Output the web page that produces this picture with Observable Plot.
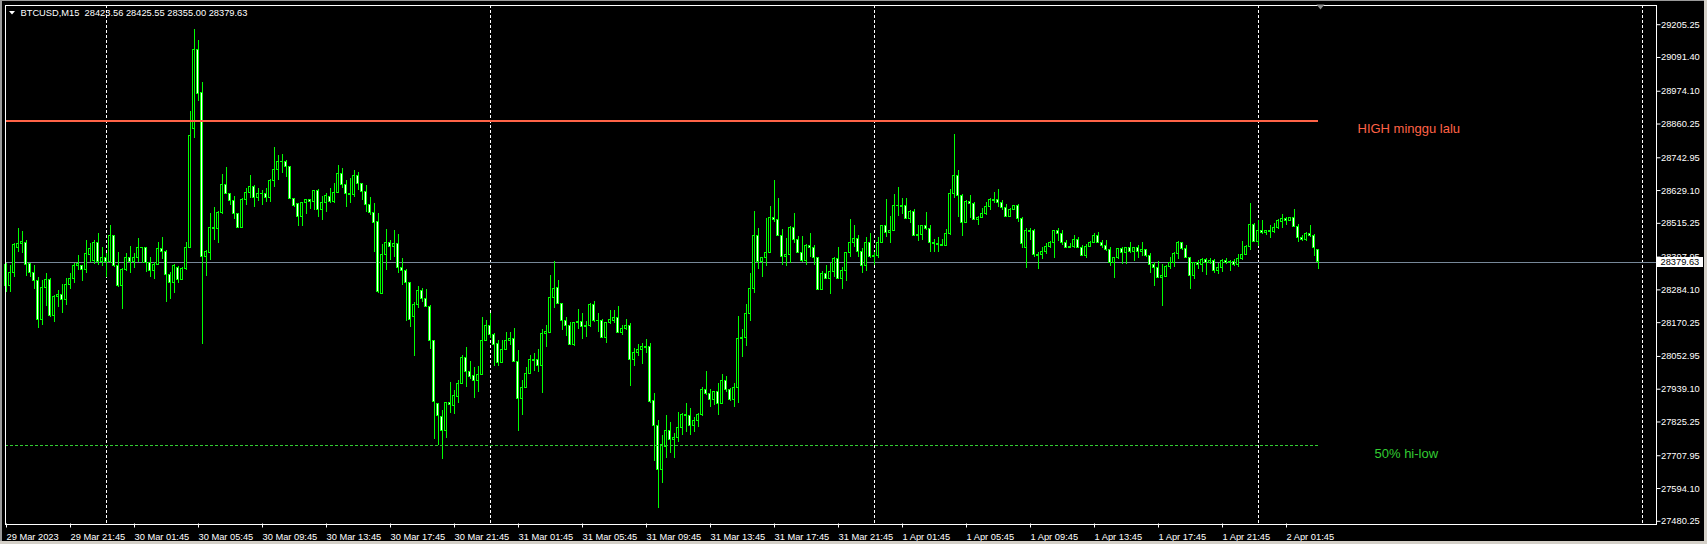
<!DOCTYPE html>
<html><head><meta charset="utf-8">
<script src="https://cdn.jsdelivr.net/npm/d3@7"></script>
<script src="https://cdn.jsdelivr.net/npm/@observablehq/plot@0.6"></script>
<style>
html,body{margin:0;padding:0;background:#000;overflow:hidden;}
#chart svg rect, #chart svg line {shape-rendering:crispEdges;}
</style></head><body><div id="chart"></div>
<script>
// ---- data (BTCUSD M15, bar 0 = 29 Mar 17:45) ----
const open = [
28369,28297,28343,28430,28444,28448,28374,28343,28314,28178,
28291,28317,28195,28261,28265,28250,28300,28321,28366,28366,
28352,28405,28384,28447,28380,28395,28381,28471,28366,28297,
28352,28395,28380,28395,28429,28429,28377,28351,28371,28427,
28417,28336,28309,28361,28317,28357,28429,28843,29118,28969,
28398,28412,28499,28494,28551,28647,28618,28593,28548,28498,
28597,28621,28643,28603,28618,28617,28603,28662,28702,28730,
28728,28712,28600,28581,28537,28586,28595,28590,28629,28562,
28586,28608,28589,28620,28685,28649,28618,28614,28678,28652,
28623,28580,28551,28519,28270,28406,28448,28432,28444,28360,
28348,28307,28189,28233,28280,28253,28224,28106,27888,27844,
27793,27892,27882,27913,27957,28048,27998,27985,27967,27989,
28108,28157,28128,28096,28029,28076,28108,28114,28035,27906,
27944,27992,28041,28039,28019,28131,28135,28256,28291,28236,
28175,28158,28093,28170,28174,28155,28158,28230,28175,28177,
28116,28170,28177,28187,28134,28149,28158,28041,28065,28076,
28085,28085,27897,27811,27659,27740,27793,27761,27770,27805,
27851,27845,27813,27830,27848,27937,27921,27902,27929,27888,
27967,27937,27900,27943,28114,28117,28199,28288,28473,28380,
28395,28413,28534,28527,28471,28398,28407,28500,28458,28413,
28384,28438,28430,28394,28285,28340,28322,28346,28392,28322,
28351,28413,28447,28461,28415,28366,28447,28398,28402,28447,
28505,28481,28490,28575,28577,28574,28531,28554,28473,28475,
28505,28496,28447,28444,28441,28438,28479,28618,28678,28610,
28516,28589,28583,28527,28534,28546,28571,28597,28595,28585,
28568,28537,28563,28577,28531,28430,28490,28487,28403,28407,
28417,28432,28446,28487,28479,28446,28430,28433,28458,28429,
28401,28432,28447,28473,28446,28436,28421,28377,28395,28427,
28412,28430,28415,28430,28415,28423,28401,28371,28361,28325,
28330,28365,28377,28409,28447,28427,28394,28332,28378,28371,
28388,28378,28386,28349,28361,28386,28377,28381,28372,28390,
28407,28432,28511,28452,28490,28481,28488,28484,28500,28521,
28530,28525,28534,28504,28464,28456,28479,28470,28423.56];
const high = [
28377,28369,28444,28496,28487,28456,28377,28369,28326,28317,
28340,28323,28265,28282,28302,28323,28340,28377,28404,28369,
28456,28446,28456,28479,28433,28409,28508,28473,28415,28357,
28409,28435,28409,28461,28431,28433,28395,28380,28450,28465,
28421,28346,28371,28365,28363,28450,28905,29189,29150,29006,
28421,28551,28569,28558,28684,28710,28620,28609,28550,28600,
28635,28681,28645,28635,28629,28635,28666,28780,28751,28754,
28734,28713,28603,28583,28589,28597,28597,28629,28632,28610,
28618,28635,28652,28716,28705,28664,28670,28699,28693,28655,
28647,28604,28583,28548,28442,28494,28456,28490,28477,28392,
28355,28311,28241,28296,28288,28284,28230,28108,27891,27865,
27894,27964,27935,27969,28056,28083,28035,28016,28018,28189,
28178,28203,28131,28108,28108,28135,28135,28149,28074,27969,
28013,28056,28062,28076,28145,28160,28334,28384,28317,28238,
28189,28172,28172,28215,28203,28174,28236,28244,28201,28180,
28172,28213,28212,28226,28160,28180,28166,28079,28094,28097,
28111,28097,27925,27830,27778,27848,27822,27786,27857,27854,
27888,27871,27840,27854,27946,28001,27937,27929,27958,27990,
27983,27940,27960,28192,28147,28233,28342,28556,28499,28398,
28533,28574,28664,28600,28494,28461,28504,28551,28470,28470,
28441,28481,28438,28397,28349,28369,28375,28398,28430,28361,
28415,28529,28508,28473,28427,28467,28479,28415,28467,28508,
28598,28539,28615,28639,28600,28600,28560,28563,28508,28508,
28554,28508,28458,28467,28458,28494,28633,28824,28699,28615,
28595,28612,28587,28540,28566,28589,28600,28621,28633,28595,
28581,28566,28578,28580,28534,28496,28496,28493,28415,28433,
28446,28453,28488,28496,28490,28456,28444,28473,28467,28438,
28442,28452,28481,28483,28456,28456,28430,28398,28429,28430,
28433,28448,28432,28438,28447,28426,28409,28380,28384,28372,
28369,28398,28415,28452,28450,28438,28398,28380,28386,28392,
28392,28392,28390,28375,28389,28392,28386,28390,28407,28452,
28438,28583,28516,28525,28525,28492,28508,28516,28529,28546,
28537,28537,28563,28510,28473,28485,28508,28475,28425.55];
const low = [
28276,28276,28328,28415,28409,28331,28328,28284,28150,28160,
28226,28187,28172,28222,28203,28230,28284,28305,28351,28314,
28342,28380,28372,28369,28365,28328,28377,28363,28294,28216,
28349,28342,28357,28380,28377,28346,28326,28319,28369,28389,
28241,28250,28273,28307,28317,28353,28427,28809,28940,28094,
28331,28386,28456,28446,28546,28614,28577,28529,28496,28496,
28577,28600,28569,28592,28577,28589,28589,28639,28664,28690,
28676,28598,28571,28505,28505,28546,28562,28560,28537,28525,
28554,28585,28585,28618,28635,28571,28583,28604,28629,28595,
28554,28543,28415,28273,28268,28351,28386,28395,28342,28299,
28174,28155,28054,28218,28241,28222,28077,27764,27744,27694,
27767,27856,27851,27888,27955,27946,27972,27908,27929,27985,
28106,28114,28019,28019,28027,28074,28091,28031,27793,27848,
27940,27989,28002,27998,27925,28085,28132,28218,28233,28143,
28122,28091,28087,28147,28112,28120,28155,28170,28137,28114,
28099,28164,28166,28131,28126,28143,27950,28019,28053,28025,
28062,27888,27689,27525,27610,27697,27717,27697,27755,27778,
27790,27778,27790,27807,27846,27917,27877,27883,27848,27886,
27929,27897,27877,27891,28048,28089,28175,28270,28354,28326,
28365,28410,28519,28470,28369,28365,28375,28446,28410,28380,
28369,28398,28369,28282,28282,28320,28268,28328,28319,28285,
28314,28398,28430,28398,28342,28348,28392,28369,28392,28444,
28467,28446,28487,28539,28546,28527,28516,28470,28453,28456,
28490,28415,28415,28415,28435,28436,28473,28600,28537,28470,
28514,28531,28525,28508,28532,28543,28560,28585,28571,28560,
28534,28534,28560,28517,28427,28360,28456,28398,28355,28390,
28407,28427,28394,28453,28438,28427,28427,28429,28427,28400,
28394,28430,28446,28444,28427,28418,28367,28325,28390,28372,
28372,28412,28384,28394,28401,28398,28340,28297,28322,28226,
28328,28355,28361,28389,28421,28392,28285,28320,28355,28343,
28334,28372,28340,28338,28343,28374,28349,28367,28361,28387,
28402,28421,28448,28436,28477,28473,28461,28481,28494,28496,
28508,28522,28502,28450,28453,28453,28467,28401,28355.00];
const close = [
28297,28343,28441,28444,28450,28371,28343,28314,28178,28291,
28317,28195,28261,28267,28250,28302,28322,28367,28375,28352,
28409,28427,28448,28380,28395,28381,28471,28367,28297,28354,
28395,28380,28395,28429,28431,28377,28351,28371,28427,28415,
28336,28307,28367,28320,28357,28429,28817,29116,28965,28398,
28417,28500,28494,28552,28647,28618,28592,28548,28499,28597,
28621,28643,28603,28618,28616,28603,28664,28702,28730,28728,
28710,28600,28575,28537,28587,28595,28590,28629,28562,28587,
28609,28589,28621,28685,28649,28618,28614,28678,28653,28624,
28580,28551,28517,28276,28406,28448,28433,28444,28360,28349,
28307,28181,28233,28280,28253,28224,28106,27896,27845,27793,
27892,27883,27914,27958,28048,27998,27981,27967,27989,28108,
28157,28128,28094,28030,28076,28108,28114,28033,27906,27944,
27993,28041,28037,28019,28131,28137,28257,28288,28236,28175,
28158,28093,28170,28174,28155,28160,28230,28175,28177,28116,
28170,28178,28187,28134,28149,28158,28041,28065,28076,28085,
28082,27894,27811,27659,27747,27793,27761,27770,27805,27851,
27845,27813,27830,27848,27937,27921,27902,27929,27888,27967,
27937,27900,27943,28114,28118,28199,28288,28473,28380,28395,
28413,28534,28527,28471,28398,28407,28500,28458,28413,28384,
28438,28430,28394,28285,28340,28323,28346,28392,28323,28351,
28413,28448,28461,28415,28367,28448,28398,28402,28448,28505,
28481,28490,28575,28577,28571,28531,28554,28473,28475,28505,
28496,28448,28444,28441,28438,28479,28618,28678,28610,28516,
28589,28583,28527,28534,28546,28571,28597,28594,28585,28568,
28537,28563,28577,28531,28444,28490,28485,28404,28407,28417,
28433,28446,28487,28479,28446,28430,28433,28458,28429,28401,
28433,28448,28473,28446,28436,28421,28377,28395,28427,28412,
28430,28415,28430,28415,28423,28401,28371,28361,28325,28331,
28365,28377,28409,28448,28427,28394,28332,28378,28371,28389,
28378,28386,28349,28361,28386,28377,28381,28372,28390,28407,
28433,28511,28452,28490,28481,28488,28484,28500,28522,28532,
28525,28534,28504,28464,28456,28479,28470,28429,28379.63];

const symbolName = "BTCUSD,M15";
const priceTicks = [29205.25, 29091.40, 28974.10, 28860.25, 28742.95, 28629.10, 28515.25, 28397.95,
                    28284.10, 28170.25, 28052.95, 27939.10, 27825.25, 27707.95, 27594.10, 27480.25];
const timeTickBars = [0,16,32,48,64,80,96,112,128,144,160,176,192,208,224,240,256,272,288,304,320];
const timeTickLabels = ["29 Mar 2023","29 Mar 21:45","30 Mar 01:45","30 Mar 05:45","30 Mar 09:45",
  "30 Mar 13:45","30 Mar 17:45","30 Mar 21:45","31 Mar 01:45","31 Mar 05:45","31 Mar 09:45",
  "31 Mar 13:45","31 Mar 17:45","31 Mar 21:45","1 Apr 01:45","1 Apr 05:45","1 Apr 09:45",
  "1 Apr 13:45","1 Apr 17:45","1 Apr 21:45","2 Apr 01:45"];
const midnightBars = [25,121,217,313,409];
const levelNames = ["HIGH minggu lalu", "50% hi-low"];
const levelPrices = [28872, 27743.5];
const levelColors = ["#ff6347", "#32cd32"];

// ---- build ----
const bars = close.map((c, i) => ({i, o: open[i], h: high[i], l: low[i], c}));
const last = bars.length - 1;
const lastBar = bars[last];
const levels = levelNames.map((name, k) => ({name, price: levelPrices[k], color: levelColors[k]}));
const fmt = v => v.toFixed(2);

const W = 1707, H = 544;
const FONT = "'Liberation Sans', Arial, sans-serif";
const chart = Plot.plot({
  width: W, height: H,
  marginLeft: 4.5, marginRight: 51.5, marginTop: 4.5, marginBottom: 20.5,
  style: {background: "#000", color: "#fff", fontFamily: FONT, fontSize: "9.3px", overflow: "visible"},
  x: {type: "linear", domain: [-0.25, 412.5]},
  y: {type: "linear", domain: [27470.85, 29273.68]},
  color: {type: "identity"},
  marks: [
    Plot.ruleX(midnightBars, {stroke: "#fff", strokeDasharray: "3,2"}),
    Plot.ruleY([lastBar.c], {stroke: "#778899"}),
    Plot.ruleX(bars, {x: "i", y1: "l", y2: "h", stroke: "#00ff00"}),
    Plot.rect(bars, {x1: d => d.i - 0.25, x2: d => d.i + 0.25, y1: "o", y2: "c",
      stroke: "#00ff00", fill: d => d.c < d.o ? "#ffffff" : "#000000"}),
    Plot.ruleY([levels[0]], {y: "price", x1: () => -0.25, x2: () => last + 0.125, stroke: "color", strokeWidth: 2}),
    Plot.ruleY([levels[1]], {y: "price", x1: () => -0.25, x2: () => last + 0.125, stroke: "color", strokeDasharray: "3,2"}),
    Plot.text([levels[0]], {x: () => last, y: "price", text: "name", fill: "color", dx: 39.5, dy: 12.6,
      textAnchor: "start", lineAnchor: "bottom", fontSize: 13}),
    Plot.text([levels[1]], {x: () => last, y: "price", text: "name", fill: "color", dx: 56.5, dy: 12.7,
      textAnchor: "start", lineAnchor: "bottom", fontSize: 13}),
    Plot.frame({stroke: "#fff"}),
    Plot.axisY({ticks: priceTicks, anchor: "right", tickSize: 4, tickPadding: 1, tickFormat: fmt,
      textAnchor: "start", label: null, fill: "#fff", stroke: "#fff"}),
    Plot.axisX({ticks: timeTickBars, anchor: "bottom", tickSize: 4, tickPadding: 5,
      tickFormat: d => timeTickLabels[timeTickBars.indexOf(d)], textAnchor: "start", dx: 0.5,
      label: null, fill: "#fff", stroke: "#fff"})
  ]
});
document.getElementById("chart").appendChild(chart);

const svg = d3.select(chart);
const ys = chart.scale("y");
const yc = ys.apply(lastBar.c);
// current price box
svg.append("rect").attr("x", 1656).attr("y", yc - 4.5).attr("width", 47).attr("height", 10).attr("fill", "#fff");
svg.append("text").attr("x", 1660.5).attr("y", yc + 3.2).attr("fill", "#000").attr("text-anchor", "start")
  .style("font-family", FONT).style("font-size", "9.3px").text(fmt(lastBar.c));
// header text
svg.append("path").attr("d", "M9,11 L15,11 L12,14.5 Z").attr("fill", "#fff");
svg.append("text").attr("x", 20.5).attr("y", 15.7).attr("fill", "#fff").attr("text-anchor", "start")
  .style("white-space", "pre").style("font-family", FONT).style("font-size", "9.3px")
  .text(`${symbolName}  ${fmt(lastBar.o)} ${fmt(lastBar.h)} ${fmt(lastBar.l)} ${fmt(lastBar.c)}`);
// chart-shift marker
svg.append("path").attr("d", "M1316.5,4.5 L1324.5,4.5 L1320.5,9.5 Z").attr("fill", "#8c8c8c");
// window edges
svg.append("rect").attr("x", 0).attr("y", 0).attr("width", 2).attr("height", H).attr("fill", "#9a9a9a");
svg.append("rect").attr("x", 0).attr("y", 0).attr("width", W).attr("height", 1).attr("fill", "#9a9a9a");
svg.append("rect").attr("x", W - 3).attr("y", 0).attr("width", 3).attr("height", H).attr("fill", "#d4d0c8");
svg.append("rect").attr("x", 0).attr("y", H - 3).attr("width", W).attr("height", 3).attr("fill", "#d4d0c8");
</script></body></html>
